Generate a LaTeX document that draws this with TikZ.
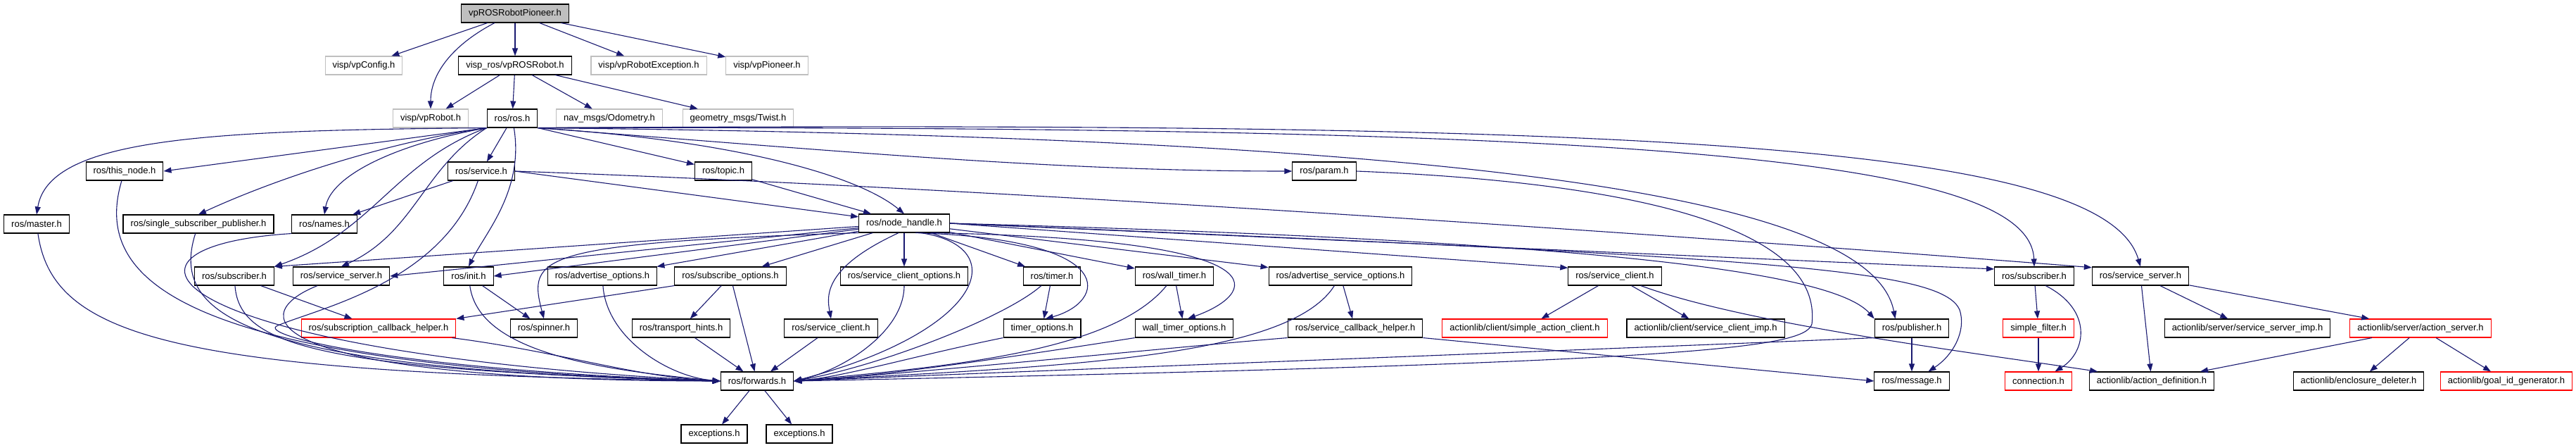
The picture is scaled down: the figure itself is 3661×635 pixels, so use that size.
\documentclass[tikz,border=0pt]{standalone}
\usepackage{fontspec}
\usetikzlibrary{arrows.meta}
\newfontfamily\incfont{Liberation Sans}
\definecolor{edgeblue}{RGB}{25,25,112}
\definecolor{extgray}{RGB}{191,191,191}
\definecolor{cutred}{RGB}{255,0,0}

\begin{document}
\begin{tikzpicture}[x=1pt,y=1pt,>={Triangle[length=11pt,width=8pt]},
  every node/.style={font=\incfont\fontsize{13}{15}\selectfont}]
  \tikzset{inc/.style={draw=black,line width=1.1pt,fill=white,inner xsep=10.5pt,inner ysep=0pt,minimum height=26pt},
    incext/.style={inc,draw=extgray},
    inccut/.style={inc,draw=cutred},
    incmain/.style={inc,fill=extgray},
    dep/.style={->,draw=edgeblue,line width=1.1pt}}
  \useasboundingbox (0,0) rectangle (3661,-635);

  \node[incmain] (pioneer) at (732,-19) {vpROSRobotPioneer.h};

  \node[incext] (vpconfig) at (517,-93) {visp/vpConfig.h};
  \node[inc] (rosrobot) at (732,-93) {visp\_ros/vpROSRobot.h};
  \node[incext] (robotexc) at (922,-93) {visp/vpRobotException.h};
  \node[incext] (pioneerh) at (1090,-93) {visp/vpPioneer.h};

  \node[incext] (vprobot) at (612,-168) {visp/vpRobot.h};
  \node[inc] (ros) at (728,-168) {ros/ros.h};
  \node[incext] (odom) at (866,-168) {nav\_msgs/Odometry.h};
  \node[incext] (twist) at (1049,-168) {geometry\_msgs/Twist.h};

  \node[inc] (thisnode) at (177,-243) {ros/this\_node.h};
  \node[inc] (service) at (684,-243) {ros/service.h};
  \node[inc] (topic) at (1028,-243) {ros/topic.h};
  \node[inc] (param) at (1882,-243) {ros/param.h};

  \node[inc] (master) at (52,-318) {ros/master.h};
  \node[inc] (sspub) at (282,-318) {ros/single\_subscriber\_publisher.h};
  \node[inc] (names) at (461,-318) {ros/names.h};
  \node[inc] (nodehandle) at (1285,-317) {ros/node\_handle.h};

  \node[inc] (subL) at (333,-392) {ros/subscriber.h};
  \node[inc] (srvserverL) at (485,-392) {ros/service\_server.h};
  \node[inc] (init) at (666,-392) {ros/init.h};
  \node[inc] (advopt) at (856,-392) {ros/advertise\_options.h};
  \node[inc] (subopt) at (1038,-392) {ros/subscribe\_options.h};
  \node[inc] (srvclientopt) at (1285,-392) {ros/service\_client\_options.h};
  \node[inc] (timer) at (1495,-392) {ros/timer.h};
  \node[inc] (walltimer) at (1669,-392) {ros/wall\_timer.h};
  \node[inc] (advsrvopt) at (1905,-392) {ros/advertise\_service\_options.h};
  \node[inc] (srvclientU) at (2295,-392) {ros/service\_client.h};
  \node[inc] (subR) at (2891,-392) {ros/subscriber.h};
  \node[inc] (srvserverR) at (3042,-392) {ros/service\_server.h};

  \node[inccut] (subcbhelper) at (538,-466) {ros/subscription\_callback\_helper.h};
  \node[inc] (spinner) at (773,-466) {ros/spinner.h};
  \node[inc] (transport) at (968,-466) {ros/transport\_hints.h};
  \node[inc] (srvclientL) at (1181,-466) {ros/service\_client.h};
  \node[inc] (timeropt) at (1481,-466) {timer\_options.h};
  \node[inc] (walltimeropt) at (1683,-466) {wall\_timer\_options.h};
  \node[inc] (srvcbhelper) at (1926,-466) {ros/service\_callback\_helper.h};
  \node[inccut] (simpleclient) at (2167,-466) {actionlib/client/simple\_action\_client.h};
  \node[inc] (clientimp) at (2424,-466) {actionlib/client/service\_client\_imp.h};
  \node[inc] (publisher) at (2717,-466) {ros/publisher.h};
  \node[inccut] (simplefilter) at (2897,-466) {simple\_filter.h};
  \node[inc] (serverimp) at (3194,-466) {actionlib/server/service\_server\_imp.h};
  \node[inccut] (actionserver) at (3440,-466) {actionlib/server/action\_server.h};

  \node[inc] (forwards) at (1076,-541) {ros/forwards.h};
  \node[inc] (message) at (2717,-541) {ros/message.h};
  \node[inccut] (connection) at (2897,-541) {connection.h};
  \node[inc] (actiondef) at (3058,-541) {actionlib/action\_definition.h};
  \node[inc] (enclosure) at (3352,-541) {actionlib/enclosure\_deleter.h};
  \node[inccut] (goalid) at (3562,-541) {actionlib/goal\_id\_generator.h};

  \node[inc] (exc1) at (1015,-616) {exceptions.h};
  \node[inc] (exc2) at (1136,-616) {exceptions.h};

  \draw[dep] (pioneer) -- (vpconfig);
  \draw[dep] (pioneer.-155) .. controls (650,-60) and (612,-100) .. (vprobot.north);
  \draw[dep] (pioneer) -- (rosrobot);
  \draw[dep] (pioneer) -- (robotexc);
  \draw[dep] (pioneer) -- (pioneerh);
  \draw[dep] (rosrobot) -- (vprobot);
  \draw[dep] (rosrobot) -- (ros);
  \draw[dep] (rosrobot) -- (odom);
  \draw[dep] (rosrobot) -- (twist);

  \draw[dep] (ros.south west) .. controls (300,-185) and (70,-195) .. (master.north);
  \draw[dep] (ros.south west) -- (thisnode.east);
  \draw[dep] (ros.south west) .. controls (560,-200) and (400,-250) .. (sspub.north);
  \draw[dep] (ros.south west) .. controls (560,-205) and (470,-250) .. (names.north);
  \draw[dep] (ros) -- (service);
  \draw[dep] (ros.south west) .. controls (560,-230) and (530,-330) .. (subL.north east);
  \draw[dep] (ros.south west) .. controls (600,-240) and (590,-330) .. (srvserverL.north);
  \draw[dep] (ros.-80) .. controls (745,-270) and (690,-330) .. (init.north);
  \draw[dep] (ros.south east) -- (topic);
  \draw[dep] (ros.south east) .. controls (1050,-200) and (1220,-250) .. (nodehandle.north);
  \draw[dep] (ros.south east) .. controls (1200,-215) and (1500,-243) .. (param.west);
  \draw[dep] (ros.south east) .. controls (2100,-195) and (2660,-280) .. (publisher.150);
  \draw[dep] (ros.south east) .. controls (2300,-178) and (2885,-220) .. (subR.north);
  \draw[dep] (ros.south east) .. controls (2300,-172) and (2990,-200) .. (srvserverR.north);

  \draw[dep] (service) -- (names);
  \draw[dep] (service.east) -- (nodehandle.172);
  \draw[dep] (service.east) .. controls (1500,-270) and (2600,-350) .. (srvserverR.170);
  \draw[dep] (service) .. controls (630,-400) and (455,-437) .. (395,-462)
    .. controls (360,-475) and (560,-525) .. (forwards.west);
  \draw[dep] (topic) -- (nodehandle);
  \draw[dep] (param.east) .. controls (2350,-260) and (2590,-330) .. (2575,-460)
    .. controls (2565,-495) and (2400,-515) .. (forwards.east);

  \draw[dep] (master) .. controls (75,-480) and (250,-530) .. (forwards.west);
  \draw[dep] (thisnode) .. controls (130,-400) and (260,-520) .. (forwards.west);
  \draw[dep] (sspub) .. controls (240,-450) and (350,-525) .. (forwards.west);
  \draw[dep] (names.south west) .. controls (120,-350) and (220,-500) .. (forwards.west);
  \draw[dep] (subL) .. controls (340,-490) and (450,-525) .. (forwards.west);
  \draw[dep] (srvserverL) .. controls (340,-450) and (380,-540) .. (forwards.west);
  \draw[dep] (subL) -- (subcbhelper);
  \draw[dep] (subcbhelper) .. controls (800,-500) and (900,-535) .. (forwards.west);
  \draw[dep] (init) -- (spinner);
  \draw[dep] (init) .. controls (680,-500) and (850,-525) .. (forwards.west);
  \draw[dep] (advopt) .. controls (862,-480) and (950,-535) .. (forwards.west);

  \draw[dep] (nodehandle) -- (subL.north east);
  \draw[dep] (nodehandle) -- (srvserverL.east);
  \draw[dep] (nodehandle) -- (init.east);
  \draw[dep] (nodehandle.south west) .. controls (760,-345) and (750,-365) .. (spinner.north);
  \draw[dep] (nodehandle) -- (advopt);
  \draw[dep] (nodehandle) -- (subopt);
  \draw[dep] (nodehandle) -- (srvclientopt);
  \draw[dep] (nodehandle.-120) .. controls (1170,-380) and (1175,-420) .. (srvclientL.north);
  \draw[dep] (nodehandle.-30) .. controls (1440,-350) and (1400,-470) .. (forwards.east);
  \draw[dep] (nodehandle) -- (timer);
  \draw[dep] (nodehandle.-40) .. controls (1600,-340) and (1570,-430) .. (timeropt.70);
  \draw[dep] (nodehandle) -- (walltimer);
  \draw[dep] (nodehandle.-20) .. controls (1850,-340) and (1780,-420) .. (walltimeropt.70);
  \draw[dep] (nodehandle) -- (advsrvopt);
  \draw[dep] (nodehandle.east) -- (srvclientU.170);
  \draw[dep] (nodehandle.east) .. controls (2200,-340) and (2600,-380) .. (publisher.north west);
  \draw[dep] (nodehandle.east) .. controls (2500,-365) and (2760,-380) .. (2785,-440)
    .. controls (2795,-470) and (2775,-505) .. (message.30);
  \draw[dep] (nodehandle.east) -- (subR.170);

  \draw[dep] (subopt.south west) -- (subcbhelper.north east);
  \draw[dep] (subopt) -- (transport);
  \draw[dep] (subopt) -- (forwards);
  \draw[dep] (transport) -- (forwards);
  \draw[dep] (srvclientL) -- (forwards);
  \draw[dep] (srvclientopt) .. controls (1285,-470) and (1200,-525) .. (forwards.east);
  \draw[dep] (timer) -- (timeropt);
  \draw[dep] (timer) .. controls (1430,-450) and (1250,-520) .. (forwards.east);
  \draw[dep] (timeropt.south west) .. controls (1300,-505) and (1200,-535) .. (forwards.east);
  \draw[dep] (walltimer) -- (walltimeropt);
  \draw[dep] (walltimer) .. controls (1580,-500) and (1350,-520) .. (forwards.east);
  \draw[dep] (walltimeropt.south west) .. controls (1450,-505) and (1250,-535) .. (forwards.east);
  \draw[dep] (advsrvopt) -- (srvcbhelper);
  \draw[dep] (advsrvopt) .. controls (1830,-510) and (1500,-520) .. (forwards.east);
  \draw[dep] (srvcbhelper.south west) .. controls (1700,-490) and (1300,-530) .. (forwards.east);
  \draw[dep] (srvcbhelper.south east) -- (message.west);

  \draw[dep] (srvclientU) -- (simpleclient);
  \draw[dep] (srvclientU) -- (clientimp);
  \draw[dep] (srvclientU) .. controls (2480,-460) and (2800,-500) .. (actiondef.170);
  \draw[dep] (publisher) -- (message);
  \draw[dep] (publisher.south west) .. controls (2300,-495) and (1500,-525) .. (forwards.east);

  \draw[dep] (subR) -- (simplefilter);
  \draw[dep] (subR.-40) .. controls (2975,-440) and (2965,-500) .. (connection.30);
  \draw[dep] (simplefilter) -- (connection);
  \draw[dep] (srvserverR) -- (actiondef);
  \draw[dep] (srvserverR) -- (serverimp);
  \draw[dep] (srvserverR) -- (actionserver);
  \draw[dep] (actionserver) -- (actiondef);
  \draw[dep] (actionserver) -- (enclosure);
  \draw[dep] (actionserver) -- (goalid);

  \draw[dep] (forwards) -- (exc1);
  \draw[dep] (forwards) -- (exc2);
\end{tikzpicture}
\end{document}
